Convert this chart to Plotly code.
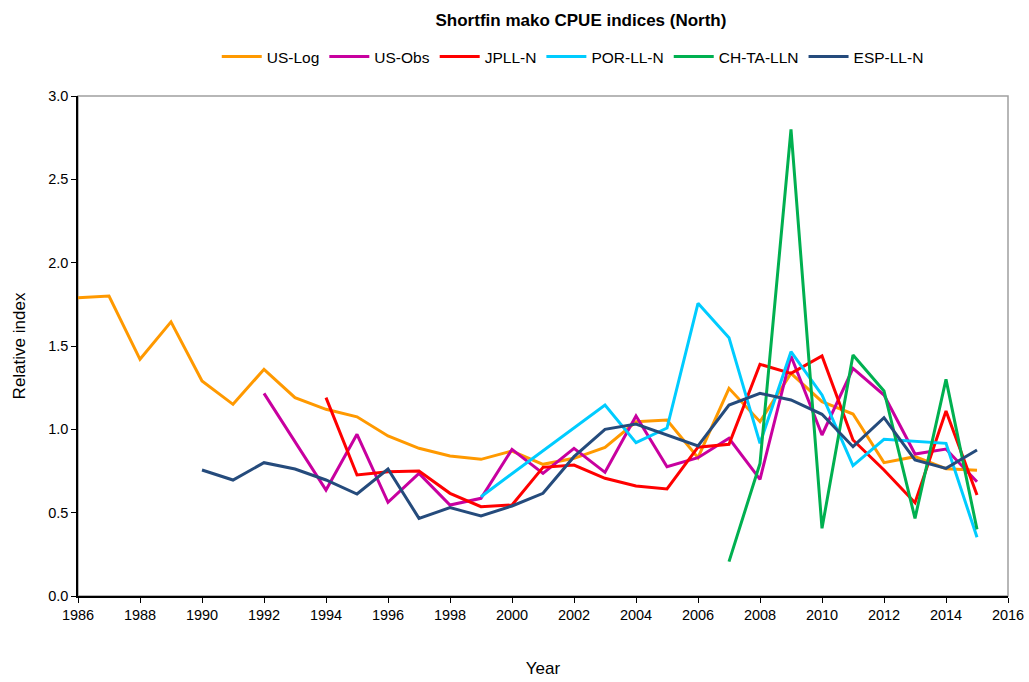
import plotly.graph_objects as go

years = list(range(1986, 2016))

us_log = [1.79, 1.80, 1.42, 1.645, 1.29, 1.15, 1.36, 1.19, 1.12, 1.075, 0.96, 0.886, 0.84, 0.82, 0.87,
          0.79, 0.826, 0.892, 1.045, 1.056, 0.83, 1.246, 1.046, 1.336, 1.166, 1.092, 0.80, 0.836, 0.764, 0.754]
us_obs = [None]*6 + [1.216, 0.93, 0.636, 0.97, 0.562, 0.736, 0.546, 0.586, 0.88,
          0.736, 0.886, 0.742, 1.08, 0.776, 0.83, 0.946, 0.70, 1.44, 0.966, 1.366, 1.206, 0.852, 0.882, 0.686]
jpll_n = [None]*8 + [1.19, 0.726, 0.746, 0.75, 0.616, 0.536, 0.546,
          0.772, 0.786, 0.706, 0.66, 0.642, 0.893, 0.91, 1.39, 1.336, 1.44, 0.936, 0.756, 0.56, 1.11, 0.606]
por_ll_n = [None]*13 + [0.596, None, None, None, 1.146, 0.92, 1.008, 1.756, 1.55, 0.916, 1.466, 1.206,
            0.782, 0.94, 0.926, 0.916, 0.352]
ch_ta_lln = [None]*21 + [0.206, 0.796, 2.80, 0.406, 1.446, 1.23, 0.466, 1.30, 0.40]
esp_ll_n = [None]*4 + [0.756, 0.696, 0.80, 0.762, 0.696, 0.612, 0.762, 0.466, 0.53, 0.48, 0.54,
            0.616, 0.836, 1.0, 1.032, 0.966, 0.90, 1.146, 1.216, 1.176, 1.09, 0.896, 1.07, 0.816, 0.766, 0.876]

series = [
    ("US-Log", us_log, "#FF9900"),
    ("US-Obs", us_obs, "#C8009F"),
    ("JPLL-N", jpll_n, "#FF0000"),
    ("POR-LL-N", por_ll_n, "#00CCFF"),
    ("CH-TA-LLN", ch_ta_lln, "#00B050"),
    ("ESP-LL-N", esp_ll_n, "#254B7C"),
]

x_ticks = list(range(1986, 2017, 2))
y_ticks = [0.0, 0.5, 1.0, 1.5, 2.0, 2.5, 3.0]

fig = go.Figure()
for name, vals, color in series:
    fig.add_trace(go.Scatter(
        x=years, y=vals, name=name, mode="lines",
        line=dict(color=color, width=3), connectgaps=True,
    ))

font_family = "Liberation Sans, Arial, sans-serif"

fig.update_layout(
    width=1029, height=682,
    margin=dict(l=78, r=21, t=96, b=86, autoexpand=False),
    paper_bgcolor="white", plot_bgcolor="white",
    font=dict(family=font_family, size=14, color="black"),
    title=dict(text="<b>Shortfin mako CPUE indices (North)</b>", x=0.5646, xref="container",
               xanchor="center", y=0.97, yref="container", yanchor="middle",
               font=dict(size=17, family=font_family, color="black"), automargin=False),
    legend=dict(orientation="h", x=0.532, xanchor="center", y=1.078, yanchor="middle",
                font=dict(size=15.5, family=font_family), itemwidth=40, traceorder="normal",
                bgcolor="rgba(0,0,0,0)"),
    showlegend=True,
    shapes=[dict(type="rect", xref="paper", yref="paper", x0=0, x1=1, y0=0, y1=1,
                 line=dict(color="#A0A0A0", width=1.5), layer="below")],
)

fig.update_xaxes(
    range=[1986, 2016], tickmode="array", tickvals=x_ticks, ticktext=[str(t) for t in x_ticks],
    showgrid=False, zeroline=False, showline=True, linecolor="black", linewidth=1.5,
    ticks="outside", ticklen=5, tickcolor="black", tickwidth=1, automargin=False,
    tickfont=dict(size=14.5), title=dict(text="Year", font=dict(size=17), standoff=40),
)
fig.update_yaxes(
    range=[0, 3.0], tickmode="array", tickvals=y_ticks, ticktext=[f"{t:.1f}" for t in y_ticks],
    showgrid=False, zeroline=False, showline=True, linecolor="black", linewidth=1.5,
    ticks="outside", ticklen=5, tickcolor="black", tickwidth=1, automargin=False,
    tickfont=dict(size=14.5), title=dict(text="Relative index", font=dict(size=17), standoff=18),
)

fig.write_html("out.html", config={"displayModeBar": False},
               post_script="document.body.style.margin='0';document.body.style.overflow='hidden';")
